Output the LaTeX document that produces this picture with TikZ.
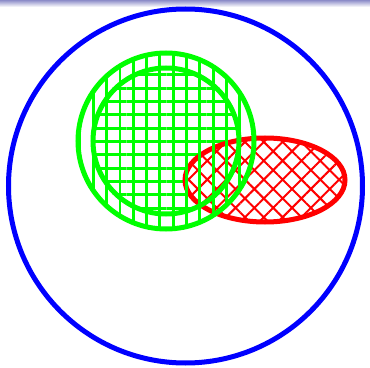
\documentclass[tikz,border=0pt]{standalone}
\usetikzlibrary{patterns.meta}
\definecolor{ringblue}{HTML}{0000FF}
\definecolor{leafgreen}{HTML}{00FF00}
\definecolor{spotred}{HTML}{FF0000}
\definecolor{barlav}{HTML}{8C8CC8}

\begin{document}
\begin{tikzpicture}[x=0.025cm,y=-0.025cm]
  \useasboundingbox (0,0) rectangle (370,368);
  \shade[top color=barlav,bottom color=white] (0,0) rectangle (370,7);
  \coordinate (disc) at (166,141);
  \coordinate (spot) at (265,180);
  \coordinate (world) at (185.5,186);
  % outer ring
  \draw[ringblue,line width=0.125cm] (world) circle[radius=177];
  % inner disc, horizontal hatching
  \fill[pattern={Lines[angle=0,distance=0.333cm,line width=0.07cm]},pattern color=leafgreen]
    (disc) circle[radius=73];
  % red spot covers what lies below
  \draw[spotred,line width=0.125cm,preaction={fill=white},
        pattern={Hatch[angle=45,distance=0.333cm,line width=0.05cm]},pattern color=spotred]
    (spot) ellipse[x radius=80,y radius=42];
  % big green disc, vertical hatching
  \draw[leafgreen,line width=0.125cm,
        pattern={Lines[angle=90,distance=0.333cm,line width=0.07cm]},pattern color=leafgreen]
    (disc) circle[radius=88];
  \draw[leafgreen,line width=0.125cm] (disc) circle[radius=73];
\end{tikzpicture}
\end{document}
